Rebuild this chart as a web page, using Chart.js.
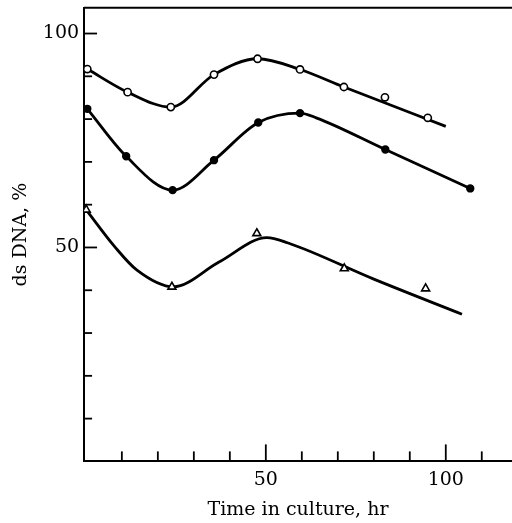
<!DOCTYPE html>
<html>
<head>
<meta charset="utf-8">
<script src="https://cdn.jsdelivr.net/npm/chart.js@4.4.1/dist/chart.umd.min.js"></script>
<style>
  html, body { margin: 0; padding: 0; background: #fff; }
  #wrap { width: 512px; height: 523px; }
</style>
</head>
<body>
<div id="wrap"><canvas id="dnaChart" width="512" height="523"></canvas></div>
<script>
// measured points, hours vs ds DNA %
var openX = [0.4, 11.6, 23.6, 35.6, 47.7, 59.5, 71.7, 83.1, 95.0];
var openY = [91.7, 86.3, 82.8, 90.4, 94.1, 91.6, 87.5, 85.1, 80.3];
var filledX = [0.4, 11.2, 24.1, 35.6, 47.9, 59.5, 83.2, 106.8];
var filledY = [82.4, 71.3, 63.4, 70.4, 79.2, 81.4, 72.9, 63.8];
var triX = [0.1, 23.9, 47.5, 71.8, 94.4];
var triY = [58.8, 40.8, 53.3, 45.1, 40.4];

// fitted curves as drawn in the figure
var openCurveX = [0.4, 11.6, 23.6, 35.6, 47.7, 59.5, 71.7, 100];
var openCurveY = [91.7, 86.3, 82.8, 90.4, 94.1, 91.6, 87.5, 78.3];
var filledCurveX = [0.4, 11.2, 24.1, 35.6, 47.9, 59.5, 64, 83.2, 106.8];
var filledCurveY = [82.4, 71.3, 63.4, 70.4, 79.2, 81.4, 80.3, 72.9, 63.8];
var triCurveX = [0.1, 8, 14.2, 24.3, 37, 50.3, 56, 80, 104.5];
var triCurveY = [58.8, 50.2, 44.7, 40.8, 46.6, 52.3, 51.1, 42.6, 34.4];

var xTicks = [10, 20, 30, 40, 50, 60, 70, 80, 90, 100, 110];
var yTicks = [10, 20, 30, 40, 50, 60, 70, 80, 90, 100];
var labelledTicks = [50, 100];

function pts(xs, ys) {
    var out = [];
    for (var i = 0; i < xs.length; i++) {
        out.push({x: xs[i], y: ys[i]});
    }
    return out;
}

function curve(xs, ys) {
    return {
        data: pts(xs, ys),
        showLine: true,
        borderColor: "#000",
        borderWidth: 2.8,
        pointRadius: 0,
        cubicInterpolationMode: "monotone",
        order: 2
    };
}

function marks(xs, ys, style, fill, r) {
    return {
        data: pts(xs, ys),
        showLine: false,
        pointStyle: style,
        pointRadius: r,
        pointBackgroundColor: fill,
        pointBorderColor: "#000",
        pointBorderWidth: 1.6,
        order: 1
    };
}

var serif = "'DejaVu Serif', 'Liberation Serif', serif";

// inward tick marks plus the top frame line
var frame = {
    id: "frame",
    afterDraw: function(chart) {
        var ctx = chart.ctx;
        var area = chart.chartArea;
        var xs = chart.scales.x, ys = chart.scales.y;
        ctx.save();
        ctx.strokeStyle = "#000";
        ctx.lineWidth = 2;
        ctx.beginPath();
        ctx.moveTo(area.left, area.top);
        ctx.lineTo(area.right, area.top);
        ctx.stroke();
        ctx.lineWidth = 1.8;
        xTicks.forEach(function(v) {
            var px = xs.getPixelForValue(v);
            var len = labelledTicks.indexOf(v) >= 0 ? 17 : 10;
            ctx.beginPath();
            ctx.moveTo(px, area.bottom);
            ctx.lineTo(px, area.bottom - len);
            ctx.stroke();
        });
        yTicks.forEach(function(v) {
            var py = ys.getPixelForValue(v);
            var len = labelledTicks.indexOf(v) >= 0 ? 13 : 8;
            ctx.beginPath();
            ctx.moveTo(area.left, py);
            ctx.lineTo(area.left + len, py);
            ctx.stroke();
        });
        ctx.restore();
    }
};

new Chart(document.getElementById("dnaChart"), {
    type: "scatter",
    data: {
        datasets: [
            marks(openX, openY, "circle", "#fff", 3.6),
            marks(filledX, filledY, "circle", "#000", 3.4),
            marks(triX, triY, "triangle", "#fff", 4.6),
            curve(openCurveX, openCurveY),
            curve(filledCurveX, filledCurveY),
            curve(triCurveX, triCurveY)
        ]
    },
    options: {
        responsive: false,
        animation: false,
        layout: {autoPadding: false, padding: {left: 10, top: 0, right: 0, bottom: 2}},
        plugins: {legend: {display: false}, tooltip: {enabled: false}},
        scales: {
            x: {
                type: "linear",
                min: -0.5,
                max: 118.4,
                afterBuildTicks: function(axis) {
                    axis.ticks = labelledTicks.map(function(v) { return {value: v}; });
                },
                grid: {display: false, drawTicks: false},
                border: {display: true, color: "#000", width: 2},
                ticks: {
                    color: "#000",
                    font: {family: serif, size: 19},
                    padding: 7,
                    maxRotation: 0
                },
                title: {
                    display: true,
                    text: "Time in culture, hr",
                    color: "#000",
                    font: {family: serif, size: 19},
                    padding: {top: 0, bottom: 0}
                }
            },
            y: {
                type: "linear",
                min: 0,
                max: 106,
                afterBuildTicks: function(axis) {
                    axis.ticks = labelledTicks.map(function(v) { return {value: v}; });
                },
                grid: {display: false, drawTicks: false},
                border: {display: true, color: "#000", width: 2},
                ticks: {
                    color: "#000",
                    // small lineHeight keeps the top padding of the axis down
                    font: {family: serif, size: 19, lineHeight: 0.3},
                    padding: 5
                },
                title: {
                    display: true,
                    text: "ds DNA, %",
                    color: "#000",
                    font: {family: serif, size: 19},
                    padding: {top: 0, bottom: 5}
                }
            }
        }
    },
    plugins: [frame]
});
</script>
</body>
</html>
